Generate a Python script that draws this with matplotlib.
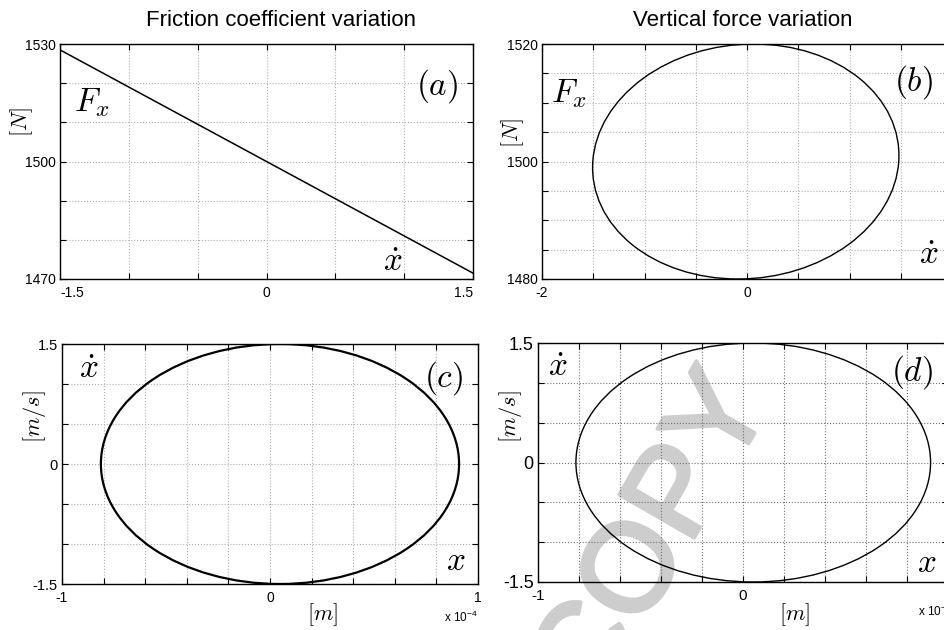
import numpy as np
import matplotlib
matplotlib.use("Agg")
import matplotlib.pyplot as plt
import matplotlib.patheffects as pe
from matplotlib.patches import Ellipse

plt.rcParams['font.family'] = ['Liberation Sans', 'DejaVu Sans']
plt.rcParams['mathtext.fontset'] = 'cm'

# (a) Fx against slip speed, friction coefficient varied
speed_a = [-1.5, -1.0, -0.5, 0.0, 0.5, 1.0, 1.5]
force_a = [1528.5, 1519.0, 1509.5, 1500.0, 1490.5, 1481.0, 1471.5]

# (b) Fx against slip speed, vertical load varied: closed loop
# centre (speed, force), full width, full height, tilt in degrees
loop_b = [-0.012, 1500.0, 2.985, 40.0, -0.22]

# (c), (d) phase portraits, displacement in units of 1e-4 m, speed in m/s
loop_c = [0.048, 0.0, 1.722, 3.0, 0.0]
loop_d = [0.050, 0.0, 1.730, 3.0, 0.0]

W, H = 944, 630
fig = plt.figure(figsize=(W / 100, H / 100), dpi=100)


def box(left, right, top, bottom):
    return [left / W, 1 - bottom / H, (right - left) / W, (bottom - top) / H]


def setup(ax, xt, xl, yt, yl, xfs=10, yfs=10, gcol='#b0b0b0'):
    ax.set_facecolor('none')
    ax.set_xlim(xt[0], xt[-1])
    ax.set_ylim(yt[0], yt[-1])
    ax.set_xticks(xt, xl)
    ax.set_yticks(yt, yl)
    ax.tick_params(direction='in', top=True, right=True, length=4, width=0.8,
                   pad=5)
    ax.tick_params(axis='x', labelsize=xfs)
    ax.tick_params(axis='y', labelsize=yfs, pad=3)
    ax.grid(True, linestyle=':', linewidth=0.8, color=gcol)
    for s in ax.spines.values():
        s.set_linewidth(1.0)


def blank(vals, keep):
    return [lab if i in keep else '' for i, lab in enumerate(vals)]


def add_loop(ax, p, lw):
    ax.add_patch(Ellipse((p[0], p[1]), p[2], p[3], angle=p[4], fill=False,
                         edgecolor='black', linewidth=lw, zorder=3))


mt = dict(fontsize=24, ha='center', va='center')

# ---- (a)
ax = fig.add_axes(box(60, 473, 44, 279))
xt = np.arange(-1.5, 1.51, 0.5)
yt = np.arange(1470, 1531, 10)
setup(ax, xt, blank(['-1.5', '', '', '0', '', '', '1.5'], {0, 3, 6}),
      yt, blank(['1470', '', '', '1500', '', '', '1530'], {0, 3, 6}))
xl = ax.get_xticklabels()
xl[0].set_ha('left')
xl[-1].set_ha('right')
ax.plot(speed_a, force_a, color='black', linewidth=1.1)
ax.text(0.076, 0.749, r'$F_x$', transform=ax.transAxes, **mt)
ax.text(0.913, 0.823, r'$(a)$', transform=ax.transAxes, **mt)
ax.text(0.805, 0.072, r'$\dot{x}$', transform=ax.transAxes, **mt)
ax.text(-0.092, 0.668, r'$[N]$', transform=ax.transAxes, fontsize=16,
        rotation=90, ha='center', va='center')

# ---- (b)
ax = fig.add_axes(box(542, 952, 44, 279))
xt = np.arange(-2, 2.01, 0.5)
yt = np.arange(1480, 1521, 5)
setup(ax, xt, blank(['-2', '', '', '', '0', '', '', '', '2'], {0, 4, 8}),
      yt, blank(['1480', '', '', '', '1500', '', '', '', '1520'], {0, 4, 8}))
add_loop(ax, loop_b, 1.0)
ax.text(0.066, 0.787, r'$F_x$', transform=ax.transAxes, **mt)
ax.text(0.906, 0.840, r'$(b)$', transform=ax.transAxes, **mt)
ax.text(0.943, 0.102, r'$\dot{x}$', transform=ax.transAxes, **mt)
ax.text(-0.071, 0.621, r'$[N]$', transform=ax.transAxes, fontsize=16,
        rotation=90, ha='center', va='center')

# ---- (c)
xt = np.round(np.arange(-1, 1.01, 0.2), 1)
yt = np.arange(-1.5, 1.51, 0.5)
xlab = blank(['-1'] + [''] * 4 + ['0'] + [''] * 4 + ['1'], {0, 5, 10})
ylab = blank(['-1.5', '', '', '0', '', '', '1.5'], {0, 3, 6})

ax = fig.add_axes(box(62, 478, 344, 584))
setup(ax, xt, xlab, yt, ylab, xfs=10, yfs=10.5)
add_loop(ax, loop_c, 1.6)
ax.text(0.065, 0.892, r'$\dot{x}$', transform=ax.transAxes, **mt)
ax.text(0.918, 0.858, r'$(c)$', transform=ax.transAxes, **mt)
ax.text(0.947, 0.092, r'$x$', transform=ax.transAxes, **mt)
ax.text(-0.065, 0.696, r'$[m/s]$', transform=ax.transAxes, fontsize=16,
        rotation=90, ha='center', va='center')
ax.text(0.627, -0.129, r'$[m]$', transform=ax.transAxes, fontsize=16,
        ha='center', va='center')
ax.text(1.0, -0.1375, r'$\mathregular{x\ 10^{-4}}$', transform=ax.transAxes,
        fontsize=8.5, ha='right', va='center')

# ---- (d)
ax = fig.add_axes(box(538, 948, 343, 582))
setup(ax, xt, xlab, yt, ylab, xfs=11, yfs=13, gcol='#707070')
add_loop(ax, loop_d, 1.0)
ax.text(0.048, 0.897, r'$\dot{x}$', transform=ax.transAxes, **mt)
ax.text(0.913, 0.877, r'$(d)$', transform=ax.transAxes, **mt)
ax.text(0.949, 0.079, r'$x$', transform=ax.transAxes, **mt)
ax.text(-0.066, 0.690, r'$[m/s]$', transform=ax.transAxes, fontsize=16,
        rotation=90, ha='center', va='center')
ax.text(0.627, -0.138, r'$[m]$', transform=ax.transAxes, fontsize=16,
        ha='center', va='center')
ax.text(1.01, -0.121, r'$\mathregular{x\ 10^{-4}}$', transform=ax.transAxes,
        fontsize=8.5, ha='right', va='center')

# column titles
fig.text(0.298, 0.968, 'Friction coefficient variation', fontsize=16,
         ha='center', va='center')
fig.text(0.7866, 0.968, 'Vertical force variation', fontsize=16,
         ha='center', va='center')

# watermark, behind the axes contents
wm_col = '#cdcdcd'
fig.text(0.695, 0.144, 'COPY', fontsize=90, rotation=60, color=wm_col,
         ha='center', va='center', zorder=-1,
         path_effects=[pe.withStroke(linewidth=3, foreground=wm_col)])

fig.savefig('out.png', dpi=100)
